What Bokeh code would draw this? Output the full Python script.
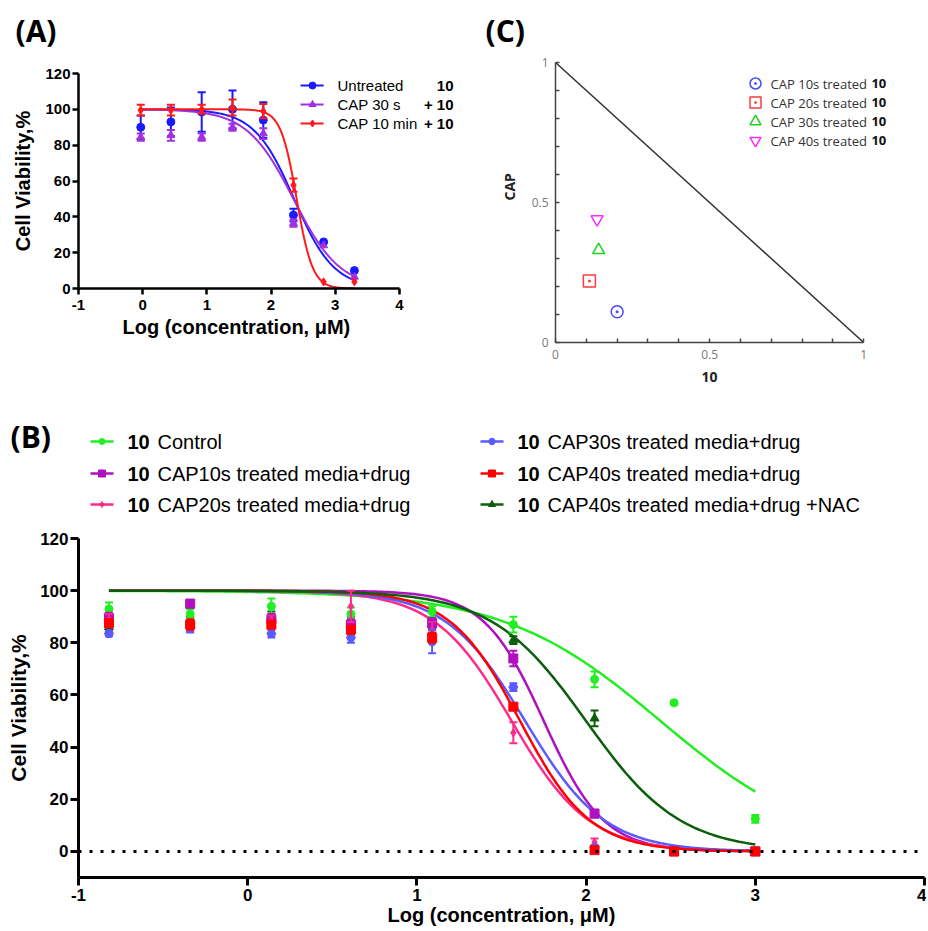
import numpy as np
from bokeh.plotting import figure
from bokeh.models import Range1d, FixedTicker, Label, Span, Title
from bokeh.layouts import column, row
from bokeh.embed import file_html
from bokeh.resources import INLINE

# ---------------- Panel A data ----------------
a_logc = [-0.03, 0.44, 0.92, 1.40, 1.88, 2.35, 2.82, 3.30]
a_names = ["Untreated", "CAP 30 s", "CAP 10 min"]
a_suffix = ["10", "+ 10", "+ 10"]
a_untreated = [90, 93, 98.5, 100, 94, 41, 26, 10]
a_untreated_err = [6.5, 8, 11, 10.5, 10, 3.5, 0, 0]
a_cap30s = [84.5, 85.5, 84.5, 90, 86.5, 36.5, 24, 6.5]
a_cap30s_err = [2, 3, 2, 2, 3, 2, 0, 0]
a_cap10min = [99.5, 99.5, 100, 101, 99, 57.7, 3.7, 3.7]
a_cap10min_err = [3, 3, 2.5, 4.5, 4, 3.7, 0, 0]
a_logic50 = [2.36, 2.35, 2.40]      # fitted curve parameters
a_hill = [1.4, 1.2, 3.5]

# ---------------- Panel B data ----------------
b_logc = [-0.82, -0.34, 0.14, 0.61, 1.09, 1.57, 2.05, 2.52, 3.00]
b_names = ["Control", "CAP10s treated media+drug", "CAP20s treated media+drug",
           "CAP30s treated media+drug", "CAP40s treated media+drug",
           "CAP40s treated media+drug +NAC"]
b_control = [93, 91, 94, 91, 92, 87, 66, 57, 12.5]
b_control_err = [2.5, 2, 3, 2.5, 2, 3, 3, 0.5, 1.5]
b_cap10 = [89.5, 95, 89, 87, 87.5, 74, 14.5, 0, 0]
b_cap10_err = [2, 1.5, 2, 2, 2, 3, 1.5, 0.5, 0.5]
b_cap20 = [89, 86.5, 88.5, 94, 85, 45.5, 3.5, 0, 0]
b_cap20_err = [2, 2, 2, 6, 3, 4, 1.5, 0.3, 0.3]
b_cap30 = [83.5, 86, 83.5, 82, 80.5, 63, 1.5, 0, 0]
b_cap30_err = [1, 2, 1.5, 2, 4.5, 1.5, 1, 0.3, 0.3]
b_cap40 = [87.5, 87, 87, 85, 82, 55.5, 0.5, 0, 0]
b_cap40_err = [1.5, 2, 1.5, 1.5, 2, 1, 0.5, 0.3, 0.3]
b_nac = [86, 88, 90, 88, 87, 81, 51, 0, 0]
b_nac_err = [2, 2, 2, 2, 2, 1.5, 3, 0.3, 0.3]
b_logic50 = [2.44, 1.75, 1.56, 1.64, 1.61, 2.00]   # fitted curve parameters
b_hill = [0.94, 2.45, 1.9, 1.85, 2.1, 1.56]

# ---------------- Panel C data ----------------
c_names = ["CAP 10s treated", "CAP 20s treated", "CAP 30s treated", "CAP 40s treated"]
c_drug = [0.20, 0.11, 0.14, 0.135]
c_cap = [0.11, 0.22, 0.33, 0.44]

ARIAL = "Liberation Sans"
SANS = "Open Sans"


def fit_curve(x0, x1, logic50, hill):
    xs = np.linspace(x0, x1, 200)
    return xs, 100.0 / (1.0 + 10 ** ((xs - logic50) * hill))


def errbars(p, x, y, e, color, cap, lw):
    xs = [xi for xi, ei in zip(x, e) if ei > 0]
    lo = [yi - ei for yi, ei in zip(y, e) if ei > 0]
    hi = [yi + ei for yi, ei in zip(y, e) if ei > 0]
    p.segment(x0=xs, y0=lo, x1=xs, y1=hi, line_color=color, line_width=lw)
    p.scatter(xs, hi, marker="dash", size=cap, line_color=color, line_width=lw)
    p.scatter(xs, lo, marker="dash", size=cap, line_color=color, line_width=lw)


def style_axes(p, tick_size, label_size, lw, tick_out):
    for ax in (p.xaxis[0], p.yaxis[0]):
        ax.axis_line_width = lw
        ax.axis_line_color = "black"
        ax.major_tick_line_width = lw
        ax.major_tick_line_color = "black"
        ax.major_tick_out = tick_out
        ax.major_tick_in = 0
        ax.minor_tick_line_color = None
        ax.major_label_text_font = ARIAL
        ax.major_label_text_font_style = "bold"
        ax.major_label_text_font_size = tick_size
        ax.major_label_text_color = "black"
        ax.axis_label_text_font = ARIAL
        ax.axis_label_text_font_style = "bold"
        ax.axis_label_text_font_size = label_size
        ax.axis_label_text_color = "black"
    p.xaxis.major_label_overrides = {-1: "-1"}
    p.grid.visible = False
    p.outline_line_color = None


def label(p, x, y, text, size, font=ARIAL, style="normal", align="left", color="black"):
    p.add_layout(Label(x=x, y=y, text=text, text_font=font, text_font_size=size,
                       text_font_style=style, text_align=align, text_baseline="middle",
                       text_color=color))


def blank(width, height, x1, y0):
    p = figure(width=width, height=height, x_range=Range1d(0, x1), y_range=Range1d(y0, 0),
               output_backend="svg", toolbar_location=None, x_axis_type=None, y_axis_type=None,
               min_border_left=0, min_border_right=0, min_border_top=0, min_border_bottom=0)
    p.grid.visible = False
    p.outline_line_color = None
    return p


# ================= panel letters strip =================
pT = blank(928, 50, 928, 50)
label(pT, 15, 30, "(A)", "30px", font=SANS, style="bold")
label(pT, 485, 30, "(C)", "30px", font=SANS, style="bold")

# ================= Panel A =================
pA = figure(width=478, height=348, x_range=Range1d(-1, 5), y_range=Range1d(0, 120),
            output_backend="svg", toolbar_location=None,
            min_border_left=78, min_border_right=15, min_border_top=23, min_border_bottom=110)
style_axes(pA, "15px", "20px", 2.5, 6)
pA.xaxis.ticker = FixedTicker(ticks=[-1, 0, 1, 2, 3, 4])
pA.yaxis.ticker = FixedTicker(ticks=[0, 20, 40, 60, 80, 100, 120])
pA.xaxis.bounds = (-1, 4)
pA.yaxis.bounds = (0, 120)
pA.yaxis.axis_label = "Cell Viability,%"
pA.xaxis.major_label_standoff = 5
pA.yaxis.major_label_standoff = 2
pA.yaxis.axis_label_standoff = 8
pA.add_layout(Title(text="Log (concentration, μM)", align="left", offset=44,
                    vertical_align="top", standoff=6, text_font=ARIAL,
                    text_font_size="20px", text_font_style="bold", text_color="black"), "below")

a_colors = ["#1a1aff", "#a030e0", "#ff1a1a"]
a_markers = ["circle", "triangle", "diamond"]
a_series = [(a_untreated, a_untreated_err), (a_cap30s, a_cap30s_err), (a_cap10min, a_cap10min_err)]
for i, (ys, es) in enumerate(a_series):
    cx, cy = fit_curve(a_logc[0], a_logc[-1], a_logic50[i], a_hill[i])
    pA.line(cx, cy, line_color=a_colors[i], line_width=2)
    errbars(pA, a_logc, ys, es, a_colors[i], 8, 2)
    pA.scatter(a_logc, ys, marker=a_markers[i], size=8, color=a_colors[i])

# legend A
a_leg_y = [113.3, 102.7, 92.1]
for i in range(3):
    pA.line([2.46, 2.82], [a_leg_y[i]] * 2, line_color=a_colors[i], line_width=2)
    pA.scatter([2.647], [a_leg_y[i]], marker=a_markers[i], size=7, color=a_colors[i])
    label(pA, 3.036, a_leg_y[i], a_names[i], "15px")
    label(pA, 4.844, a_leg_y[i], a_suffix[i], "15px", style="bold", align="right")

# ================= Panel C =================
pC = figure(width=450, height=348, x_range=Range1d(0, 1.1), y_range=Range1d(0, 1),
            output_backend="svg", toolbar_location=None,
            min_border_left=77, min_border_right=34, min_border_top=12, min_border_bottom=56)
pC.grid.visible = False
pC.outline_line_color = None
for ax in (pC.xaxis[0], pC.yaxis[0]):
    ax.ticker = FixedTicker(ticks=[0, 0.5, 1], minor_ticks=[0.1, 0.2, 0.3, 0.4, 0.6, 0.7, 0.8, 0.9])
    ax.bounds = (0, 1)
    ax.axis_line_color = "#444444"
    ax.axis_line_width = 1.5
    ax.major_tick_line_color = "#444444"
    ax.minor_tick_line_color = "#444444"
    ax.major_tick_line_width = 1.5
    ax.minor_tick_line_width = 1.5
    ax.major_tick_in = 4
    ax.major_tick_out = 0
    ax.minor_tick_in = 4
    ax.minor_tick_out = 0
    ax.major_label_text_font = SANS
    ax.major_label_text_font_size = "12px"
    ax.major_label_text_color = "#777777"
    ax.major_label_standoff = 7
pC.add_layout(Title(text="10", align="left", offset=146, vertical_align="top", standoff=20,
                    text_font=SANS, text_font_size="14px", text_font_style="bold",
                    text_color="#222222"), "below")
pC.add_layout(Title(text="CAP", align="left", offset=142, vertical_align="bottom", standoff=20,
                    text_font=SANS, text_font_size="14px", text_font_style="bold",
                    text_color="#222222"), "left")

pC.line([0, 1], [1, 0], line_color="#333333", line_width=1.5)
c_colors = ["#4848ff", "#ff3a3a", "#22d022", "#ff2aff"]
c_markers = ["circle_dot", "square_dot", "triangle", "inverted_triangle"]
for i in range(4):
    pC.scatter([c_drug[i]], [c_cap[i]], marker=c_markers[i], size=12, line_color=c_colors[i],
               fill_color=None, line_width=1.5)
c_leg_y = [0.925, 0.857, 0.789, 0.721]
for i in range(4):
    pC.scatter([0.649], [c_leg_y[i]], marker=c_markers[i], size=11, line_color=c_colors[i],
               fill_color=None, line_width=1.5)
    label(pC, 0.698, c_leg_y[i], c_names[i], "13px", font=SANS, color="#333333")
    label(pC, 1.025, c_leg_y[i], "10", "13px", font=SANS, style="bold", color="#111111")

# ================= Panel B legend =================
pL = blank(928, 120, 928, 120)
label(pL, 10, 38, "(B)", "30px", font=SANS, style="bold")

b_colors = ["#22ee22", "#b010c0", "#ff2a8a", "#5a5aff", "#ff0000", "#0b5e0b"]
b_markers = ["circle", "square", "diamond", "hex", "square", "triangle"]
b_sizes = [8, 9, 8, 9, 9, 9]
b_leg_x = [90, 90, 90, 480, 480, 480]
b_leg_y = [43, 75, 106, 43, 75, 106]
for i in range(6):
    lx, ly = b_leg_x[i], b_leg_y[i]
    pL.line([lx, lx + 23], [ly, ly], line_color=b_colors[i], line_width=2.5)
    pL.scatter([lx + 11.5], [ly], marker=b_markers[i], size=b_sizes[i] - 2, color=b_colors[i])
    label(pL, lx + 37, ly, "10", "20px", style="bold")
    label(pL, lx + 67, ly, b_names[i], "20px")

# ================= Panel B plot =================
pB = figure(width=926, height=411, x_range=Range1d(-1, 4.0), y_range=Range1d(-10, 120),
            output_backend="svg", toolbar_location=None,
            min_border_left=78, min_border_right=2, min_border_top=20, min_border_bottom=52)
style_axes(pB, "17px", "20px", 3, 8)
pB.xaxis.ticker = FixedTicker(ticks=[-1, 0, 1, 2, 3, 4])
pB.yaxis.ticker = FixedTicker(ticks=[0, 20, 40, 60, 80, 100, 120])
pB.xaxis.axis_label = "Log (concentration, μM)"
pB.yaxis.axis_label = "Cell Viability,%"
pB.yaxis.axis_label_text_font_size = "21px"
pB.xaxis.major_label_standoff = 3
pB.yaxis.major_label_standoff = 2
pB.xaxis.axis_label_standoff = 0
pB.yaxis.axis_label_standoff = 7

pB.add_layout(Span(location=0, dimension="width", line_color="black", line_width=3,
                   line_dash="3 8"))

b_series = [(b_control, b_control_err), (b_cap10, b_cap10_err), (b_cap20, b_cap20_err),
            (b_cap30, b_cap30_err), (b_cap40, b_cap40_err), (b_nac, b_nac_err)]
for i, (ys, es) in enumerate(b_series):
    cx, cy = fit_curve(b_logc[0], b_logc[-1], b_logic50[i], b_hill[i])
    pB.line(cx, cy, line_color=b_colors[i], line_width=2.5)
draw_order = [5, 0, 1, 2, 3, 4]
for i in draw_order:
    ys, es = b_series[i]
    errbars(pB, b_logc, ys, es, b_colors[i], 8, 2)
    pB.scatter(b_logc, ys, marker=b_markers[i], size=b_sizes[i], color=b_colors[i])

layout = column(row(pT), row(column(pA), column(pC)), row(pL), row(pB))
open("out.html", "w").write(file_html(layout, INLINE))
